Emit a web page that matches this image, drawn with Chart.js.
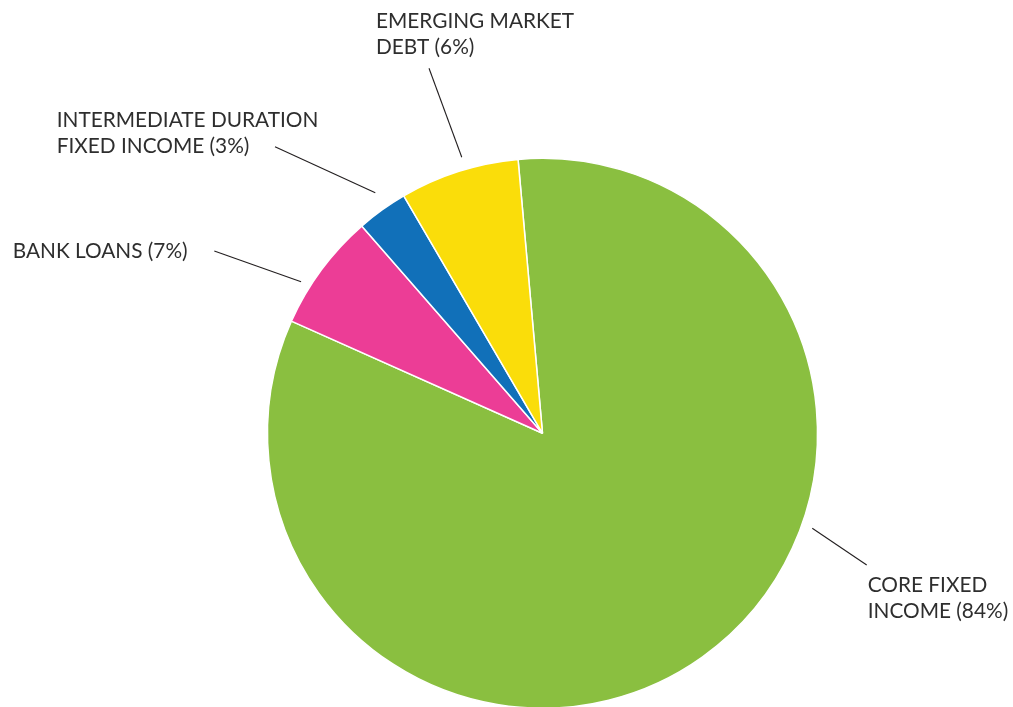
<!DOCTYPE html>
<html lang="en">
<head>
    <meta charset="UTF-8">
    <title>Fixed Income Allocation</title>
    <script src="https://cdn.jsdelivr.net/npm/chart.js"></script>
    <style>
        html, body {
            margin: 0;
            padding: 0;
            background-color: white;
            overflow: hidden;
        }
        .chart-container {
            width: 1013px;
            height: 867px;
        }
    </style>
</head>
<body>
    <div class="chart-container">
        <canvas id="allocChart" width="1013" height="867"></canvas>
    </div>

    <script>
        // slice order is clockwise, starting just left of 12 o'clock
        const categories = ['Core Fixed Income', 'Bank Loans', 'Intermediate Duration Fixed Income', 'Emerging Market Debt'];
        const shares = [83.1, 6.9, 3.0, 7.0];
        const labelLines = [
            ['CORE FIXED', 'INCOME (84%)'],
            ['BANK LOANS (7%)'],
            ['INTERMEDIATE DURATION', 'FIXED INCOME (3%)'],
            ['EMERGING MARKET', 'DEBT (6%)']
        ];
        const colors = ['#8abf40', '#ec3d96', '#1170b9', '#fadd0a'];

        // callout layout: leader starts at an angle (deg from top) a little outside the pie
        const callouts = [
            { angle: 109.4, gap: 11, end: [866.7, 565], text: [867.7, 592.3] },
            { angle: -57.9, gap: 10, end: [214.3, 251], text: [12.7, 258.3] },
            { angle: -34.8, gap: 18, end: [275, 146.7], text: [56.7, 126.7] },
            { angle: -16.3, gap: 12.6, end: [429, 68.3], text: [376, 28.3] }
        ];

        const calloutPlugin = {
            id: 'callouts',
            afterDraw(chart) {
                const ctx = chart.ctx;
                const arc = chart.getDatasetMeta(0).data[0];
                const cx = arc.x, cy = arc.y, r = arc.outerRadius;
                ctx.save();
                ctx.strokeStyle = '#231f20';
                ctx.lineWidth = 1.1;
                ctx.fillStyle = '#2e2e2e';
                ctx.font = '400 20.8px Lato';
                ctx.textBaseline = 'alphabetic';
                callouts.forEach((c, i) => {
                    const a = c.angle * Math.PI / 180;
                    const sx = cx + (r + c.gap) * Math.sin(a);
                    const sy = cy - (r + c.gap) * Math.cos(a);
                    ctx.beginPath();
                    ctx.moveTo(sx, sy);
                    ctx.lineTo(c.end[0], c.end[1]);
                    ctx.stroke();
                    labelLines[i].forEach((line, j) => {
                        ctx.fillText(line, c.text[0], c.text[1] + j * 25.8);
                    });
                });
                ctx.restore();
            }
        };

        new Chart(document.getElementById('allocChart').getContext('2d'), {
            type: 'pie',
            data: {
                labels: categories,
                datasets: [{
                    data: shares,
                    backgroundColor: colors,
                    borderColor: '#ffffff',
                    borderWidth: 1.5,
                    radius: 275
                }]
            },
            options: {
                responsive: false,
                animation: false,
                rotation: -5.1,
                layout: {
                    padding: { left: 267.5, right: 195.5, top: 158, bottom: 158.4 }
                },
                plugins: {
                    legend: { display: false },
                    tooltip: { enabled: false }
                }
            },
            plugins: [calloutPlugin]
        });
    </script>
</body>
</html>
